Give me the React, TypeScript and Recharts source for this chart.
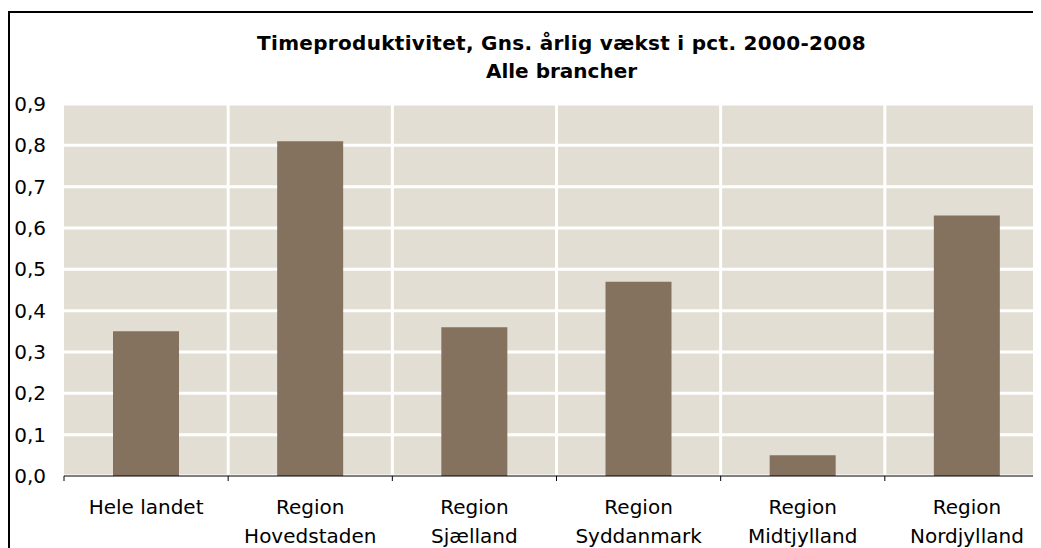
import React from "react";
import { BarChart, Bar, XAxis, YAxis, CartesianGrid } from "recharts";

const categories = [
  "Hele landet",
  "Region Hovedstaden",
  "Region Sjælland",
  "Region Syddanmark",
  "Region Midtjylland",
  "Region Nordjylland",
];
const labelLine1 = ["Hele landet", "Region", "Region", "Region", "Region", "Region"];
const labelLine2 = ["", "Hovedstaden", "Sjælland", "Syddanmark", "Midtjylland", "Nordjylland"];
const values = [0.35, 0.81, 0.36, 0.47, 0.05, 0.63];
const yTicks = [0, 0.1, 0.2, 0.3, 0.4, 0.5, 0.6, 0.7, 0.8, 0.9];
const titleLines = ["Timeproduktivitet, Gns. årlig vækst i pct. 2000-2008", "Alle brancher"];

const data = categories.map((name, i) => ({ name, value: values[i] }));

const FONT = "'DejaVu Sans', Verdana, sans-serif";
const CHART_W = 1060;
const CHART_H = 540;
const MARGIN = { top: 96, right: 19, bottom: 0, left: 0 };
const Y_W = 56;
const X_H = 72;

const CategoryTick = (props: any) => {
  const { x, y, index, width, visibleTicksCount } = props;
  const n = visibleTicksCount || categories.length;
  const plotW = typeof width === "number" && width > 0 ? width : CHART_W - MARGIN.right - Y_W;
  const bw = plotW / n;
  const left = x - bw / 2;
  const right = x + bw / 2;
  return (
    <g>
      <line x1={left} x2={left} y1={y} y2={y + 5} stroke="#000" strokeWidth={1} />
      {index === n - 1 && <line x1={right} x2={right} y1={y} y2={y + 5} stroke="#000" strokeWidth={1} />}
      <text x={x} y={y + 38} textAnchor="middle" fontFamily={FONT} fontSize={20} fill="#000">
        {labelLine1[index]}
      </text>
      {labelLine2[index] ? (
        <text x={x} y={y + 66.7} textAnchor="middle" fontFamily={FONT} fontSize={20} fill="#000">
          {labelLine2[index]}
        </text>
      ) : null}
    </g>
  );
};

const verticalGen = (args: any) => {
  const o = args && args.offset;
  if (!o) return [];
  const n = categories.length;
  const res: number[] = [];
  for (let i = 1; i < n; i++) res.push(o.left + (o.width * i) / n);
  return res;
};

export default function App() {
  return (
    <div
      style={{
        position: "relative",
        width: 1033,
        height: 540,
        overflow: "hidden",
        background: "#fff",
      }}
    >
      <div
        style={{
          position: "absolute",
          left: 0,
          top: 3,
          width: 1100,
          height: 600,
          border: "2px solid #000",
          boxSizing: "border-box",
        }}
      />
      <div
        style={{
          position: "absolute",
          left: 153.5,
          top: 21,
          width: 800,
          textAlign: "center",
          fontFamily: FONT,
          fontWeight: "bold",
          fontSize: 20,
          lineHeight: "28px",
          color: "#000",
        }}
      >
        <div style={{ letterSpacing: 0.3 }}>{titleLines[0]}</div>
        <div>{titleLines[1]}</div>
      </div>
      <div style={{ position: "absolute", left: 0, top: 0 }}>
        <BarChart width={CHART_W} height={CHART_H} data={data} margin={MARGIN}>
          <CartesianGrid
            fill="#E2DED4"
            fillOpacity={1}
            stroke="#FFFFFF"
            strokeWidth={3}
            verticalCoordinatesGenerator={verticalGen}
          />
          <XAxis
            dataKey="name"
            height={X_H}
            axisLine={{ stroke: "#000", strokeWidth: 1 }}
            tickLine={false}
            tickSize={0}
            tickMargin={0}
            interval={0}
            tick={<CategoryTick />}
          />
          <YAxis
            width={Y_W}
            domain={[0, 0.9]}
            ticks={yTicks}
            axisLine={false}
            tickLine={false}
            tickSize={0}
            tickMargin={18}
            interval={0}
            tickFormatter={(v: number) => v.toFixed(1).replace(".", ",")}
            tick={{ fontFamily: FONT, fontSize: 20, fill: "#000" }}
          />
          <Bar dataKey="value" fill="#84725E" barSize={66} isAnimationActive={false} />
        </BarChart>
      </div>
    </div>
  );
}
